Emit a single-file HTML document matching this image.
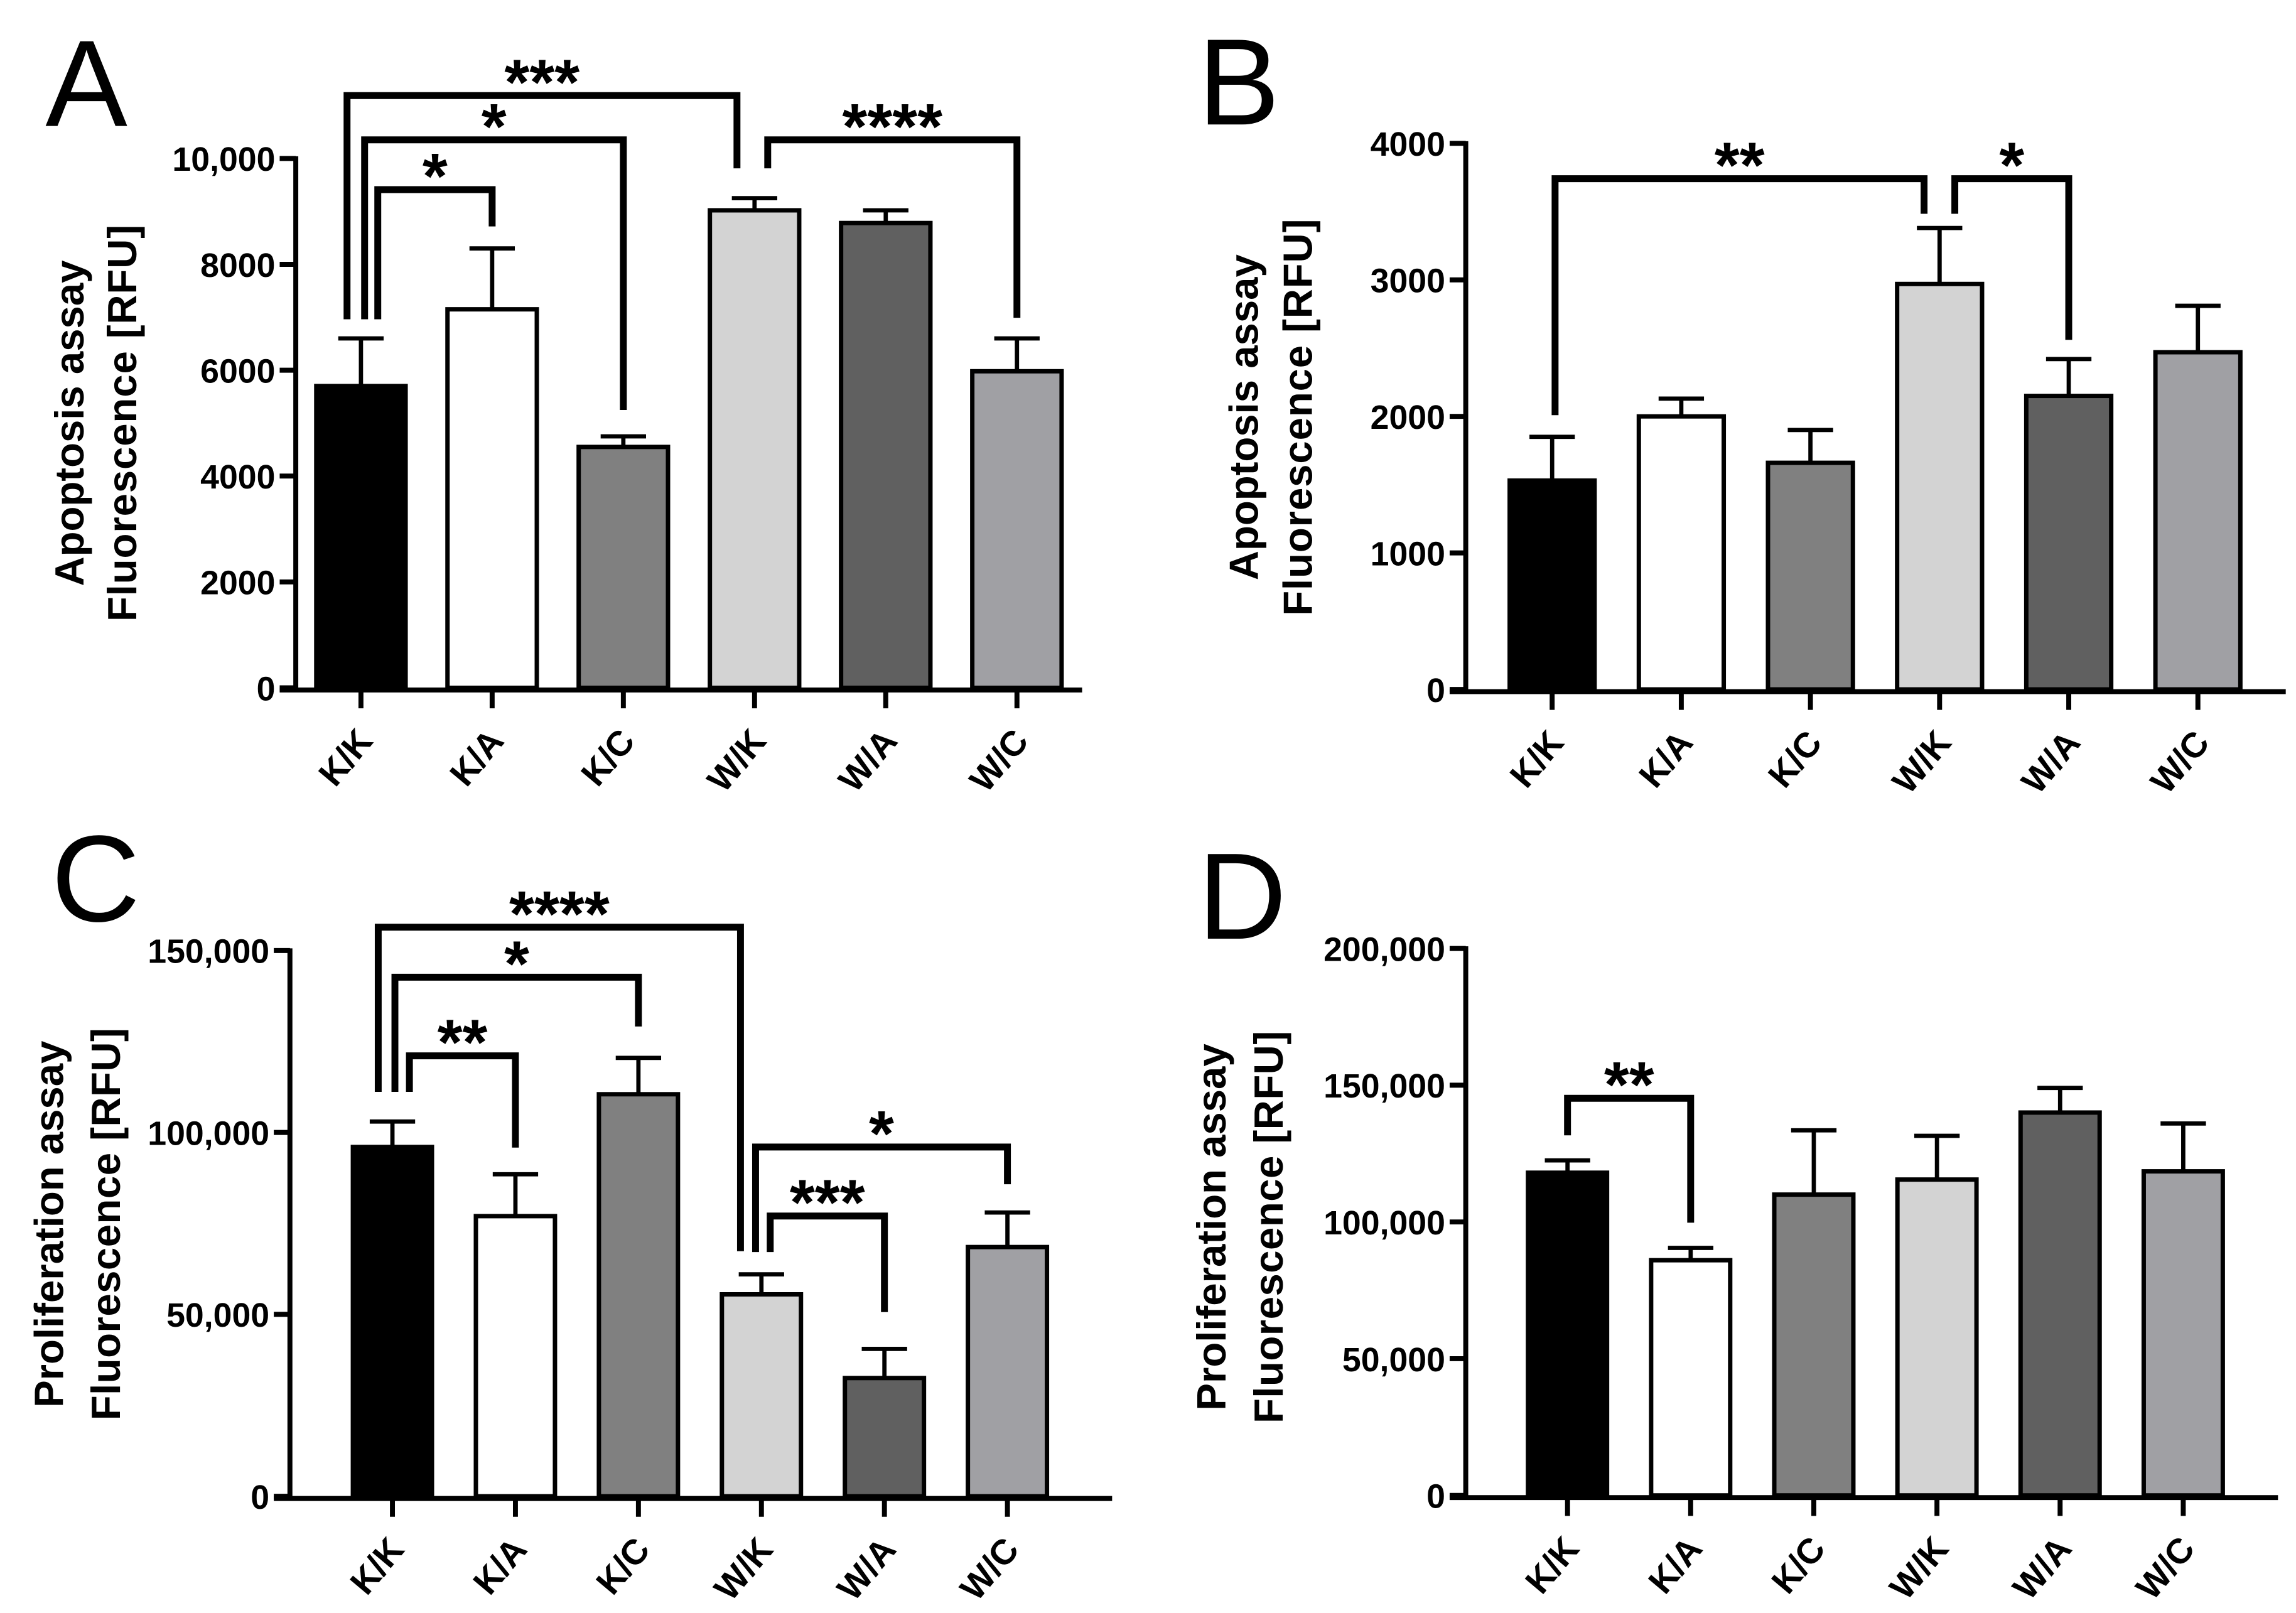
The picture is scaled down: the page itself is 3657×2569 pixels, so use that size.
<!DOCTYPE html>
<html><head><meta charset="utf-8"><style>
html,body{margin:0;padding:0;background:#fff;}
svg{display:block;}
text{font-family:"Liberation Sans",Arial,sans-serif;}
</style></head><body>
<svg id="fig" xmlns="http://www.w3.org/2000/svg" width="3657" height="2569" viewBox="0 0 1568 1101.5" preserveAspectRatio="none"></svg>
<script>
const categories = ["K/K","K/A","K/C","W/K","W/A","W/C"];
const fills = ["#000000","#ffffff","#808080","#d3d3d3","#606060","#a0a0a4"];

const valuesA = [5700,7150,4550,9020,8780,5980];
const errorsA = [6600,8300,4750,9250,9020,6600];
const ticksA = [0,2000,4000,6000,8000,10000];
const tickLabelsA = ["0","2000","4000","6000","8000","10,000"];

const valuesB = [1530,2000,1660,2970,2150,2470];
const errorsB = [1850,2130,1900,3380,2420,2810];
const ticksB = [0,1000,2000,3000,4000];
const tickLabelsB = ["0","1000","2000","3000","4000"];

const valuesC = [96000,77000,110500,55500,32500,68500];
const errorsC = [103000,88500,120500,61000,40500,78000];
const ticksC = [0,50000,100000,150000];
const tickLabelsC = ["0","50,000","100,000","150,000"];

const valuesD = [118000,86000,110000,115500,140000,118500];
const errorsD = [122500,90500,133500,131500,149000,136000];
const ticksD = [0,50000,100000,150000,200000];
const tickLabelsD = ["0","50,000","100,000","150,000","200,000"];

// brackets: [fromIdx, toIdx, barValue, leftEndValue, rightEndValue, label]
const bracketsA = [[0,3,11187,6962,9813,"***"],[0,2,10351,6962,5248,"*"],[0,1,9411,6962,8716,"*"],[3,5,10351,9813,6990,"****"]];
const bracketsB = [[0,3,3741,2009,3484,"**"],[3,4,3741,3484,2561,"*"]];
const bracketsC = [[0,3,156400,111160,67370,"****"],[0,2,142670,111160,129110,"*"],[0,1,121060,111160,95830,"**"],[3,5,95990,67130,85770,"*"],[3,4,77030,67130,50630,"***"]];
const bracketsD = [[0,1,145220,131670,99710,"**"]];

const NS="http://www.w3.org/2000/svg";
const svg=document.getElementById('fig');
function mk(tag,attrs,parent){const e=document.createElementNS(NS,tag);for(const k in attrs)e.setAttribute(k,attrs[k]);(parent||svg).appendChild(e);return e;}

const panels=[
 {id:'a',letter:'A',lx:31,ly:86,ax:202,y0:469.7,yTop:108.2,ymax:10000,c0:246.5,sp:89.6,bw:61,xEnd:739,
  vals:valuesA,errs:errorsA,ticks:ticksA,tl:tickLabelsA,br:bracketsA,
  offL:[-9.5,2.5,11.5,9],offR:[-12,0,0,0],t1:"Apoptosis assay",t2:"Fluorescence [RFU]",t1x:57,t2x:93,tcy:289,tlen:271},
 {id:'b',letter:'B',lx:818,ly:85,ax:1001,y0:470.8,yTop:97.9,ymax:4000,c0:1060,sp:88.2,bw:58,xEnd:1561,
  vals:valuesB,errs:errorsB,ticks:ticksB,tl:tickLabelsB,br:bracketsB,
  offL:[2,10.4],offR:[-10.6,0],t1:"Apoptosis assay",t2:"Fluorescence [RFU]",t1x:859,t2x:896,tcy:285,tlen:271},
 {id:'c',letter:'C',lx:35,ly:629,ax:198,y0:1021.8,yTop:649.1,ymax:150000,c0:268,sp:84,bw:54,xEnd:759.5,
  vals:valuesC,errs:errorsC,ticks:ticksC,tl:tickLabelsC,br:bracketsC,
  offL:[-9.7,1.7,11.6,-4,6],offR:[-14.3,0,0,0,0],t1:"Proliferation assay",t2:"Fluorescence [RFU]",t1x:43,t2x:82,tcy:836,tlen:268},
 {id:'d',letter:'D',lx:818,ly:641,ax:1001,y0:1021.2,yTop:647.7,ymax:200000,c0:1070.5,sp:84.1,bw:54,xEnd:1555.7,
  vals:valuesD,errs:errorsD,ticks:ticksD,tl:tickLabelsD,br:bracketsD,
  offL:[0],offR:[0],t1:"Proliferation assay",t2:"Fluorescence [RFU]",t1x:837,t2x:876,tcy:838,tlen:268}
];

panels.forEach(p=>{
 const g=mk('g',{});
 
 
 const yS=v=>p.y0-(v/p.ymax)*(p.y0-p.yTop);
 const xS=i=>p.c0+i*p.sp;
 const L=mk('text',{x:p.lx,y:p.ly,'font-size':84,fill:'#000'},g);L.textContent=p.letter;
 
 
 p.vals.forEach((v,i)=>{
  const r=mk('rect',{x:xS(i)-p.bw/2,y:yS(v),width:p.bw,height:p.y0-yS(v),fill:fills[i],stroke:'#000','stroke-width':3},g);
  
  
  const e=mk('path',{d:`M${xS(i)} ${yS(v)}V${yS(p.errs[i])}M${xS(i)-15.5} ${yS(p.errs[i])}H${xS(i)+15.5}`,stroke:'#000','stroke-width':2.9,fill:'none'},g);
  
  
 });
 const ya=mk('path',{d:`M${p.ax} ${p.yTop-1.5}V${p.y0}`,stroke:'#000','stroke-width':3.4,fill:'none'},g);
 
 
 const xa=mk('path',{d:`M${p.ax-11} ${p.y0+1.5}H${p.xEnd}`,stroke:'#000','stroke-width':3.4,fill:'none'},g);
 
 
 p.ticks.forEach((t,k)=>{
  mk('path',{d:`M${p.ax-11} ${yS(t)}H${p.ax}`,stroke:'#000','stroke-width':3.4},g);
  const tx=mk('text',{x:p.ax-14,y:yS(t)+8.5,'font-size':23,'font-weight':'bold','text-anchor':'end',fill:'#000'},g);
  tx.textContent=p.tl[k];
  
  
 });
 categories.forEach((c,i)=>{
  mk('path',{d:`M${xS(i)} ${p.y0}V${p.y0+14}`,stroke:'#000','stroke-width':3.4},g);
  const ex=xS(i)+9, ey=p.y0+37;
  const tx=mk('text',{x:ex,y:ey,'font-size':24,'font-weight':'bold','text-anchor':'end',fill:'#000',transform:`rotate(-50 ${ex} ${ey})`},g);
  tx.textContent=c;
  
  
 });
 [[p.t1,p.t1x],[p.t2,p.t2x]].forEach(([s,x],k)=>{
  const tx=mk('text',{x:x,y:p.tcy,'font-size':28,'font-weight':'bold','text-anchor':'middle',fill:'#000',transform:`rotate(-90 ${x} ${p.tcy})`},g);
  if(k===1){tx.setAttribute('textLength',p.tlen);tx.setAttribute('lengthAdjust','spacing');}
  tx.textContent=s;
  
  
 });
 p.br.forEach((b,k)=>{
  const xl=xS(b[0])+p.offL[k], xr=xS(b[1])+p.offR[k], yb=yS(b[2]);
  const pa=mk('path',{d:`M${xl} ${yS(b[3])}V${yb}H${xr}V${yS(b[4])}`,stroke:'#000','stroke-width':4.7,fill:'none','stroke-linejoin':'miter'},g);
  
  
  const st=mk('text',{x:(xl+xr)/2,y:yb+6,'font-size':44,'font-weight':'bold','text-anchor':'middle',fill:'#000'},g);
  st.textContent=b[5];
  
  
 });
});
</script>
</body></html>
